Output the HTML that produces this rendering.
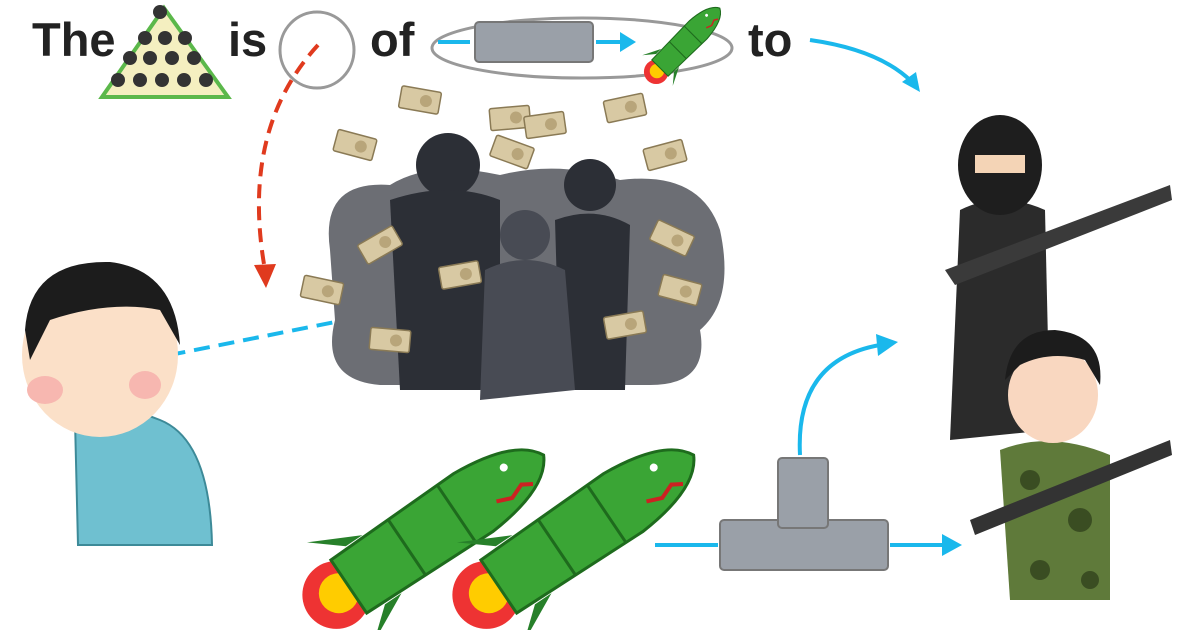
<!DOCTYPE html>
<html><head><meta charset="utf-8"><style>
html,body{margin:0;padding:0;background:#fff;width:1200px;height:630px;overflow:hidden}
</style></head><body>
<svg width="1200" height="630" viewBox="0 0 1200 630" xmlns="http://www.w3.org/2000/svg">
<defs>
<g id="bill"><rect x="-20" y="-11" width="40" height="22" rx="2" fill="#d8c9a3" stroke="#8a7a55" stroke-width="1.5"/><circle cx="6" cy="0" r="6" fill="#b8a57a"/></g>
<g id="rocket">
<circle cx="-125" cy="0" r="34" fill="#e33"/><circle cx="-122" cy="0" r="20" fill="#fc0"/>
<path d="M-90,-35 L-120,-60 L-70,-35 Z M-90,35 L-120,60 L-70,35 Z" fill="#27802a"/>
<path d="M-110,-32 L40,-35 Q110,-30 125,0 Q110,30 40,35 L-110,32 Z" fill="#3aa535" stroke="#1e6b1d" stroke-width="3"/>
<path d="M-40,-33 L-40,33 M20,-35 L20,35" stroke="#1e6b1d" stroke-width="3" fill="none"/>
<path d="M60,12 L75,18 L90,12 L100,18" stroke="#c22" stroke-width="4" fill="none"/>
<circle cx="85" cy="-12" r="4" fill="#fff"/>
</g>
</defs>
<g font-family="Liberation Sans, sans-serif" font-weight="bold" font-size="47" fill="#222">
<text x="32" y="56">The</text><text x="228" y="56">is</text><text x="370" y="56">of</text><text x="748" y="56">to</text>
</g>
<!-- pyramid -->
<polygon points="164,8 228,97 102,97" fill="#f4efc0" stroke="#5bb84a" stroke-width="4"/>
<g fill="#333"><circle cx="160" cy="12" r="7"/><circle cx="145" cy="38" r="7"/><circle cx="165" cy="38" r="7"/><circle cx="185" cy="38" r="7"/>
<circle cx="130" cy="58" r="7"/><circle cx="150" cy="58" r="7"/><circle cx="172" cy="58" r="7"/><circle cx="194" cy="58" r="7"/>
<circle cx="118" cy="80" r="7"/><circle cx="140" cy="80" r="7"/><circle cx="162" cy="80" r="7"/><circle cx="184" cy="80" r="7"/><circle cx="206" cy="80" r="7"/></g>
<ellipse cx="317" cy="50" rx="37" ry="38" fill="none" stroke="#999" stroke-width="3"/>
<ellipse cx="582" cy="48" rx="150" ry="30" fill="none" stroke="#999" stroke-width="3"/>
<rect x="475" y="22" width="118" height="40" rx="4" fill="#9aa0a8" stroke="#777" stroke-width="2"/>
<line x1="438" y1="42" x2="470" y2="42" stroke="#1ab8ec" stroke-width="4"/>
<line x1="596" y1="42" x2="622" y2="42" stroke="#1ab8ec" stroke-width="4"/><polygon points="620,32 636,42 620,52" fill="#1ab8ec"/>
<g transform="translate(688,40) rotate(-45) scale(0.36)"><use href="#rocket"/></g>
<!-- arrows -->
<path d="M810,40 Q880,50 912,82" fill="none" stroke="#1ab8ec" stroke-width="4"/><polygon points="902,82 920,92 916,72" fill="#1ab8ec"/>
<path d="M318,45 Q240,130 265,270" fill="none" stroke="#e03a1e" stroke-width="4" stroke-dasharray="14,8"/><polygon points="254,265 266,288 276,264" fill="#e03a1e"/>
<path d="M145,360 L345,320" stroke="#1ab8ec" stroke-width="4" stroke-dasharray="16,9"/><polygon points="340,309 363,315 344,331" fill="#1ab8ec"/>
<!-- dark group -->
<path d="M330,250 Q320,180 390,185 Q430,160 500,175 Q560,160 620,180 Q700,170 720,230 Q735,300 700,330 Q710,385 650,385 L380,385 Q320,380 335,320 Z" fill="#6c6e74"/>
<g fill="#2c2f36">
<circle cx="448" cy="165" r="32"/><path d="M390,200 Q450,180 500,200 L500,390 L400,390 Z"/>
<circle cx="590" cy="185" r="26"/><path d="M555,220 Q595,205 630,225 L625,390 L560,390 Z"/>
</g>
<g fill="#484b54"><circle cx="525" cy="235" r="25"/><path d="M485,270 Q525,250 565,270 L575,390 L480,400 Z"/></g>
<g>
<use href="#bill" transform="translate(420,100) rotate(10)"/><use href="#bill" transform="translate(510,118) rotate(-5)"/>
<use href="#bill" transform="translate(545,125) rotate(-8)"/><use href="#bill" transform="translate(625,108) rotate(-12)"/>
<use href="#bill" transform="translate(355,145) rotate(15)"/><use href="#bill" transform="translate(512,152) rotate(20)"/>
<use href="#bill" transform="translate(665,155) rotate(-15)"/><use href="#bill" transform="translate(380,245) rotate(-30)"/>
<use href="#bill" transform="translate(672,238) rotate(25)"/><use href="#bill" transform="translate(322,290) rotate(12)"/>
<use href="#bill" transform="translate(460,275) rotate(-10)"/><use href="#bill" transform="translate(680,290) rotate(15)"/>
<use href="#bill" transform="translate(390,340) rotate(5)"/><use href="#bill" transform="translate(625,325) rotate(-10)"/>
</g>
<!-- man -->
<path d="M75,420 Q110,400 160,420 Q210,440 212,545 L78,545 Z" fill="#6fc0d0" stroke="#3d8a98" stroke-width="2"/>
<ellipse cx="100" cy="355" rx="78" ry="82" fill="#fbe0c8"/>
<path d="M25,330 Q30,260 110,262 Q175,270 180,345 L160,310 Q110,300 50,320 L30,360 Z" fill="#1c1c1c"/>
<ellipse cx="45" cy="390" rx="18" ry="14" fill="#f7b7b0"/><ellipse cx="145" cy="385" rx="16" ry="14" fill="#f7b7b0"/>
<!-- terrorist -->
<path d="M960,210 Q1000,190 1045,210 L1050,430 L950,440 Z" fill="#2b2b2b"/>
<ellipse cx="1000" cy="165" rx="42" ry="50" fill="#1e1e1e"/>
<rect x="975" y="155" width="50" height="18" fill="#f4d4b6"/>
<path d="M945,270 L1170,185 L1172,200 L955,285 Z" fill="#3a3a3a"/>
<!-- soldier -->
<path d="M1000,450 Q1050,430 1110,455 L1110,600 L1010,600 Z" fill="#5f7a3a"/>
<g fill="#3a4d22"><circle cx="1030" cy="480" r="10"/><circle cx="1080" cy="520" r="12"/><circle cx="1040" cy="570" r="10"/><circle cx="1090" cy="580" r="9"/></g>
<ellipse cx="1053" cy="395" rx="45" ry="48" fill="#f9d7c0"/>
<path d="M1005,380 Q1010,330 1055,330 Q1105,335 1100,385 L1085,360 Q1050,350 1020,365 Z" fill="#1c1c1c"/>
<path d="M970,520 L1170,440 L1172,455 L975,535 Z" fill="#333"/>
<!-- rockets -->
<g transform="translate(440,525) rotate(-34)"><use href="#rocket"/></g>
<g transform="translate(590,525) rotate(-34)"><use href="#rocket"/></g>
<!-- T pipe -->
<rect x="720" y="520" width="168" height="50" rx="4" fill="#9aa0a8" stroke="#777" stroke-width="2"/>
<rect x="778" y="458" width="50" height="70" rx="4" fill="#9aa0a8" stroke="#777" stroke-width="2"/>
<line x1="655" y1="545" x2="718" y2="545" stroke="#1ab8ec" stroke-width="4"/>
<line x1="890" y1="545" x2="945" y2="545" stroke="#1ab8ec" stroke-width="4"/><polygon points="942,534 962,545 942,556" fill="#1ab8ec"/>
<path d="M800,455 Q795,360 880,345" fill="none" stroke="#1ab8ec" stroke-width="4"/><polygon points="876,334 898,342 878,356" fill="#1ab8ec"/>
</svg>
</body></html>
